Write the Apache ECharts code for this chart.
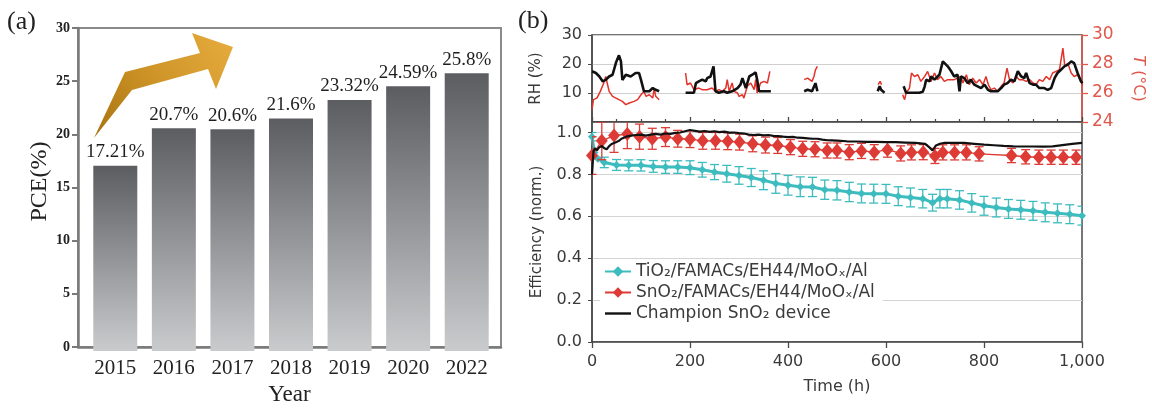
<!DOCTYPE html>
<html>
<head>
<meta charset="utf-8">
<script src="https://cdn.jsdelivr.net/npm/echarts@6/dist/echarts.min.js"></script>
<style>
  html, body { margin: 0; padding: 0; background: #fff; }
  #chart { width: 1152px; height: 411px; }
</style>
</head>
<body>
<div id="chart"></div>
<script>
// ---- (a) record power conversion efficiency by year ----
const years = ['2015', '2016', '2017', '2018', '2019', '2020', '2022'];
const pce = [17.21, 20.7, 20.6, 21.6, 23.32, 24.59, 25.8];

// ---- (b) environment during the stability test (null = no logging) ----
const rhTime = [0, 8, 15, 22, 28, 35, 42, 49, 55, 59, 62, 69, 79, 89, 96, 100, 106, 117, 124, 130, 137,
  160,
  191, 208, 212, 218, 225, 232, 235, 242, 248, 252, 259, 269, 276, 286, 297, 303, 307, 314, 321, 327, 334, 337, 341, 351, 365,
  400,
  433, 440, 443, 449, 453, 456, 460,
  520,
  583, 587, 590, 593, 597,
  615,
  636, 641, 655, 668, 675, 679, 682, 689, 692, 699, 702, 709, 716, 719, 726, 733, 739, 746, 750, 753,
  760, 767, 773, 780, 787, 794, 801, 808, 814, 821, 828, 835, 841, 848, 855, 862, 869, 876, 882, 886,
  893, 900, 906, 913, 916, 923, 930, 937, 944, 950, 957, 964, 971, 978, 984, 991, 998, 1001];
const rhValue = [17.5, 16.9, 15.7, 14.0, 14.5, 15.7, 16.3, 20.5, 23.0, 21.0, 14.5, 16.3, 15.7, 16.9, 16.9, 14.5, 10.6, 10.6, 11.7, 11.1, 10.6,
  null,
  10.1, 10.1, 13.4, 14.0, 14.6, 14.0, 15.1, 15.7, 19.2, 10.6, 10.1, 10.6, 10.1, 10.6, 11.7, 12.9, 15.1, 11.7, 15.7, 16.3, 17.1, 14.6, 10.6, 10.6, 10.6,
  null,
  10.6, 11.1, 11.7, 10.6, 11.1, 13.4, 10.6,
  null,
  10.6, 12.3, 11.1, 10.6, 10.1,
  null,
  12.3, 10.1, 10.1, 10.1, 10.4, 12.3, 14.6, 14.0, 15.7, 14.6, 15.1, 16.3, 20.9, 21.5, 19.2, 17.5, 15.7, 16.3, 10.6, 15.7,
  15.1, 13.4, 14.6, 12.9, 12.3, 11.7, 12.9, 11.1, 10.6, 10.6, 10.6, 11.7, 12.9, 13.4, 14.6, 14.0, 17.5, 15.7, 15.1, 16.9,
  13.4, 12.9, 12.9, 11.7, 11.1, 11.7, 11.1, 11.7, 15.1, 16.9, 18.0, 19.2, 19.8, 20.9, 20.3, 16.9, 14.0, 13.4];

const tempTime = [0, 3, 10, 17, 24, 28, 31, 35, 42, 49, 55, 62, 69, 76, 86, 93, 100, 106, 110, 117, 124, 127, 130, 137,
  160,
  191, 194, 201, 208, 218, 225, 235, 245, 252, 259, 266, 273, 276, 280, 286, 290, 297, 300, 307, 310, 317, 324, 331, 334, 337, 344, 351, 358, 363,
  400,
  433, 440, 443, 449, 453, 456, 460,
  520,
  584, 588, 591,
  615,
  634, 638, 641, 648, 652, 658, 665, 671, 679, 685, 692, 699, 705, 712, 719, 726, 733, 739, 746, 753,
  757, 764, 770, 777, 784, 791, 798, 804, 809, 814, 821, 828, 835, 841, 847, 852, 859, 866, 872, 879,
  886, 893, 900, 906, 913, 920, 927, 934, 940, 947, 954, 961, 965, 971, 978, 984, 991, 998, 1001];
const tempValue = [24.85, 25.54, 25.65, 26.11, 26.69, 27.14, 26.69, 26.11, 25.77, 25.65, 25.54, 25.42, 25.2, 25.31, 25.42, 25.54, 25.88, 26.11, 25.77, 25.88, 25.65, 26.34, 25.77, 25.54,
  null,
  27.38, 26.57, 26.69, 26.23, 26.34, 26.23, 26.23, 26.34, 26.11, 26.23, 26.11, 26.34, 26.92, 26.11, 26.69, 26.11, 26.0, 25.77, 25.88, 25.65, 26.46, 26.69, 26.23, 26.92, 26.0, 26.69, 26.8, 26.69, 27.49,
  null,
  26.92, 27.03, 26.92, 26.8, 27.14, 27.6, 27.83,
  null,
  26.57, 26.8, 26.57,
  null,
  25.88, 25.54, 26.0, 26.34, 27.38, 27.14, 27.26, 26.8, 27.14, 27.49, 26.8, 27.38, 26.92, 27.14, 26.8, 26.92, 26.92, 26.92, 27.03, 27.14,
  26.69, 27.26, 26.57, 27.03, 26.69, 26.92, 26.57, 27.14, 26.57, 26.23, 26.34, 26.11, 26.46, 26.69, 27.72, 26.92, 26.69, 27.14, 26.92, 26.92,
  26.8, 26.92, 26.69, 26.57, 26.92, 26.8, 27.14, 26.92, 27.38, 27.49, 27.6, 29.1, 27.83, 28.06, 27.38, 27.14, 27.26, 26.8, 26.57];

// ---- (b) normalized efficiency ----
const tio2Time = [0, 5, 12, 25, 50, 75, 100, 125, 150, 175, 200, 225, 250, 275, 300, 325, 350, 375, 400, 425, 450, 475, 500,
  525, 550, 575, 600, 625, 650, 675, 695, 710, 725, 750, 775, 800, 825, 850, 875, 900, 925, 950, 975, 1000];
const tio2Eff = [0.98, 0.905, 0.875, 0.857, 0.845, 0.843, 0.843, 0.838, 0.835, 0.835, 0.832, 0.822, 0.811, 0.803, 0.795, 0.785, 0.772, 0.757, 0.748, 0.741, 0.74, 0.727, 0.724,
  0.716, 0.709, 0.708, 0.707, 0.696, 0.69, 0.684, 0.665, 0.684, 0.684, 0.678, 0.664, 0.65, 0.642, 0.635, 0.631, 0.626, 0.619, 0.614, 0.61, 0.603];
const tio2Err = [0.02, 0, 0, 0.025, 0.026, 0.026, 0.027, 0.028, 0.03, 0.03, 0.033, 0.035, 0.036, 0.04, 0.042, 0.043, 0.045, 0.047, 0.047, 0.047, 0.046, 0.046, 0.046,
  0.046, 0.045, 0.045, 0.045, 0.045, 0.045, 0.044, 0.04, 0.044, 0.044, 0.044, 0.044, 0.045, 0.045, 0.045, 0.045, 0.045, 0.045, 0.045, 0.045, 0.045];

const sno2Time = [0, 20, 45, 72, 97, 123, 150, 175, 200, 226, 252, 277, 301, 328, 354, 379, 405, 430, 455, 480,
  500, 525, 550, 576, 603, 630, 652, 676, 700, 716, 740, 764, 790, 856, 885, 912, 937, 962, 988];
const sno2Eff = [0.89, 0.96, 0.985, 0.993, 0.98, 0.97, 0.978, 0.97, 0.968, 0.96, 0.96, 0.958, 0.954, 0.946, 0.94, 0.938, 0.93, 0.922, 0.92, 0.914,
  0.914, 0.906, 0.912, 0.906, 0.918, 0.9, 0.905, 0.906, 0.888, 0.905, 0.905, 0.905, 0.898, 0.89, 0.884, 0.882, 0.882, 0.882, 0.882];
const sno2Err = [0.09, 0.09, 0.08, 0.07, 0.06, 0.05, 0.045, 0.04, 0.04, 0.04, 0.04, 0.04, 0.038, 0.038, 0.038, 0.038, 0.036, 0.036, 0.036, 0.036,
  0.036, 0.036, 0.036, 0.036, 0.036, 0.036, 0.036, 0.036, 0.036, 0.036, 0.036, 0.036, 0.034, 0.034, 0.034, 0.034, 0.034, 0.034, 0.034];

const champTime = [0, 3, 6, 10, 15, 20, 25, 30, 35, 40, 45, 50, 55, 60, 65, 70, 80, 90, 100, 110, 120, 130, 140, 150, 160, 170, 180, 190,
  200, 210, 220, 230, 240, 250, 260, 270, 280, 290, 300, 310, 320, 330, 340, 350, 360, 370, 380, 390, 400, 410, 420, 430, 440, 450,
  460, 470, 480, 490, 500, 520, 540, 560, 580, 600, 620, 640, 660, 680, 688, 695, 702, 710, 720, 740, 760, 780, 800, 820, 840, 860,
  880, 900, 920, 940, 960, 980, 1000];
const champEff = [0.80, 0.91, 0.925, 0.915, 0.93, 0.935, 0.925, 0.92, 0.935, 0.945, 0.95, 0.955, 0.96, 0.97, 0.975, 0.98, 0.985, 0.988, 0.99, 0.985, 0.99, 0.993, 0.99, 0.995, 0.993, 0.998, 1.0, 1.006,
  1.012, 1.008, 1.004, 1.007, 1.003, 1.006, 1.002, 1.004, 0.999, 1.0, 0.997, 0.995, 0.99, 0.988, 0.99, 0.986, 0.988, 0.984, 0.983, 0.98, 0.978, 0.979, 0.975, 0.974, 0.972, 0.97,
  0.97, 0.966, 0.963, 0.962, 0.961, 0.958, 0.957, 0.955, 0.955, 0.954, 0.954, 0.952, 0.95, 0.946, 0.93, 0.914, 0.938, 0.946, 0.95, 0.951, 0.95, 0.946, 0.942, 0.939, 0.936, 0.934,
  0.933, 0.933, 0.932, 0.934, 0.94, 0.946, 0.95];

const seriesNames = ['TiO₂/FAMACs/EH44/MoOₓ/Al', 'SnO₂/FAMACs/EH44/MoOₓ/Al', 'Champion SnO₂ device'];

// ---- helpers ----
const pairs = (xs, ys) => xs.map((x, i) => [x, ys[i] === null ? '-' : ys[i]]);
const bands = (xs, ys, es) => xs.map((x, i) => [x, ys[i] - es[i], ys[i] + es[i]]).filter((d, i) => es[i] > 0);

function errorBars(color) {
  return function (params, api) {
    const lo = api.coord([api.value(0), api.value(1)]);
    const hi = api.coord([api.value(0), api.value(2)]);
    const w = 4.5;
    const style = { stroke: color, lineWidth: 1.3, fill: null };
    return {
      type: 'group',
      children: [
        { type: 'line', shape: { x1: lo[0], y1: lo[1], x2: hi[0], y2: hi[1] }, style },
        { type: 'line', shape: { x1: lo[0] - w, y1: lo[1], x2: lo[0] + w, y2: lo[1] }, style },
        { type: 'line', shape: { x1: hi[0] - w, y1: hi[1], x2: hi[0] + w, y2: hi[1] }, style }
      ]
    };
  };
}

const SERIF = 'Liberation Serif';
const SANS = 'DejaVu Sans';
const INK = '#3a3a3a';
const CYAN = '#3cbcbe';
const RED = '#dd3b36';
const RED_TEXT = '#e0574c';
const AXIS_B = '#4a4a4a';

const chart = echarts.init(document.getElementById('chart'));

chart.setOption({
  animation: false,
  backgroundColor: '#fff',
  textStyle: { fontFamily: SANS },
  grid: [
    { left: 78, top: 28, width: 423, height: 323, show: true, borderColor: '#8a8a8a', borderWidth: 2 },
    { left: 86, top: 28, width: 410, height: 323 },
    { left: 592, top: 35, width: 490, height: 87, show: true, borderColor: AXIS_B, borderWidth: 1.5 },
    { left: 592, top: 122, width: 490, height: 220, show: true, borderColor: AXIS_B, borderWidth: 1.5 }
  ],
  xAxis: [
    {
      gridIndex: 0, type: 'value', min: 0, max: 1,
      axisLine: { show: true, lineStyle: { color: '#7a7a7a', width: 2.5 } },
      axisTick: { show: false }, axisLabel: { show: false }, splitLine: { show: false },
      name: 'Year', nameLocation: 'middle', nameGap: 36,
      nameTextStyle: { fontFamily: SERIF, fontSize: 23, color: '#222' }
    },
    {
      gridIndex: 1, type: 'category', data: years,
      axisLine: { show: false }, axisTick: { show: false },
      axisLabel: { fontFamily: SERIF, fontSize: 21, color: '#222', margin: 7 }
    },
    {
      gridIndex: 2, type: 'value', min: 0, max: 1000, interval: 200,
      axisLine: { show: true, lineStyle: { color: AXIS_B, width: 1.5 } },
      axisTick: { show: true, inside: true, length: 5, lineStyle: { color: AXIS_B, width: 1.3 } },
      minorTick: { show: true, splitNumber: 4, length: 3, lineStyle: { color: AXIS_B, width: 1.2 } },
      axisLabel: { show: false }, splitLine: { show: false }
    },
    {
      gridIndex: 3, type: 'value', min: 0, max: 1000, interval: 200,
      axisLine: { show: true, lineStyle: { color: AXIS_B, width: 1.5 } },
      axisTick: { show: true, length: 6, lineStyle: { color: AXIS_B, width: 1.3 } },
      axisLabel: {
        fontSize: 16, color: INK, margin: 12,
        formatter: v => v.toLocaleString('en-US')
      },
      splitLine: { show: false },
      name: 'Time (h)', nameLocation: 'middle', nameGap: 37,
      nameTextStyle: { fontSize: 16, color: INK }
    }
  ],
  yAxis: [
    {
      gridIndex: 0, type: 'value', min: 0, max: 30, interval: 5,
      axisLine: { show: true, lineStyle: { color: '#7a7a7a', width: 2.5 } },
      axisTick: { show: true, length: 6, lineStyle: { color: '#7a7a7a', width: 2 } },
      axisLabel: { fontFamily: SERIF, fontWeight: 'bold', fontSize: 14, color: '#222', margin: 8 },
      splitLine: { show: false },
      name: 'PCE(%)', nameLocation: 'middle', nameGap: 26,
      nameTextStyle: { fontFamily: SERIF, fontSize: 24, color: '#222', padding: [0, 0, 0, 12] }
    },
    { gridIndex: 1, type: 'value', min: 0, max: 30, show: false },
    {
      gridIndex: 2, type: 'value', min: 0, max: 30, interval: 10,
      axisLine: { show: true, lineStyle: { color: AXIS_B, width: 1.5 } },
      axisTick: { show: true, length: 4, lineStyle: { color: AXIS_B } },
      axisLabel: { fontSize: 16, color: INK, margin: 10, showMinLabel: false },
      splitLine: { show: true, lineStyle: { color: '#cfcfcf', width: 1.2 } },
      name: 'RH (%)', nameLocation: 'middle', nameGap: 48,
      nameTextStyle: { fontSize: 15, color: INK }
    },
    {
      gridIndex: 2, type: 'value', position: 'right', min: 24, max: 30, interval: 2,
      axisLine: { show: true, lineStyle: { color: RED_TEXT, width: 1.5 } },
      axisTick: { show: true, length: 6, lineStyle: { color: RED_TEXT, width: 1.3 } },
      axisLabel: { fontSize: 17, color: RED_TEXT, margin: 10 },
      splitLine: { show: false },
      name: '{i|T} (°C)', nameLocation: 'middle', nameGap: 48, nameRotate: -90,
      nameTextStyle: {
        fontSize: 16, color: RED_TEXT,
        rich: { i: { fontStyle: 'italic', fontSize: 16, color: RED_TEXT } }
      }
    },
    {
      gridIndex: 3, type: 'value', min: 0, max: 1.05, interval: 0.2,
      axisLine: { show: true, lineStyle: { color: AXIS_B, width: 1.5 } },
      axisTick: { show: true, length: 4, lineStyle: { color: AXIS_B } },
      axisLabel: { fontSize: 16, color: INK, margin: 10, showMaxLabel: false, formatter: v => v.toFixed(1) },
      splitLine: { show: true, lineStyle: { color: '#d4d4d4', width: 1.2 } },
      name: 'Efficiency (norm.)', nameLocation: 'middle', nameGap: 47,
      nameTextStyle: { fontSize: 15, color: INK }
    }
  ],
  legend: {
    data: [
      seriesNames[0],
      seriesNames[1],
      { name: seriesNames[2], icon: 'path://M0,0 L26,0 L26,2.4 L0,2.4 Z' }
    ],
    orient: 'vertical', left: 600, top: 260,
    itemWidth: 26, itemHeight: 13, itemGap: 4,
    backgroundColor: '#fff', padding: [3, 8, 4, 4],
    textStyle: { fontSize: 17, color: INK }
  },
  series: [
    {
      type: 'bar', xAxisIndex: 1, yAxisIndex: 1, data: pce, barWidth: 44,
      itemStyle: {
        color: new echarts.graphic.LinearGradient(0, 0, 0, 1, [
          { offset: 0, color: '#5c5d61' },
          { offset: 1, color: '#cacbcd' }
        ])
      },
      label: {
        show: true, position: 'top', distance: 4, formatter: '{c}%',
        fontFamily: SERIF, fontSize: 19, color: '#1e1e1e'
      }
    },
    {
      type: 'line', xAxisIndex: 2, yAxisIndex: 3, data: pairs(tempTime, tempValue),
      symbol: 'none', connectNulls: false, lineStyle: { color: '#e2332b', width: 1.5 }
    },
    {
      type: 'line', xAxisIndex: 2, yAxisIndex: 2, data: pairs(rhTime, rhValue),
      symbol: 'none', connectNulls: false, lineStyle: { color: '#111', width: 2.6 }
    },
    {
      type: 'custom', xAxisIndex: 3, yAxisIndex: 4, clip: true,
      renderItem: errorBars(CYAN), encode: { x: 0, y: [1, 2] },
      data: bands(tio2Time, tio2Eff, tio2Err), z: 2
    },
    {
      name: seriesNames[0], type: 'line', xAxisIndex: 3, yAxisIndex: 4,
      data: pairs(tio2Time, tio2Eff),
      symbol: 'diamond', symbolSize: 8, itemStyle: { color: CYAN },
      lineStyle: { color: CYAN, width: 3 }, z: 3
    },
    {
      type: 'custom', xAxisIndex: 3, yAxisIndex: 4, clip: true,
      renderItem: errorBars(RED), encode: { x: 0, y: [1, 2] },
      data: bands(sno2Time, sno2Eff, sno2Err), z: 4
    },
    {
      name: seriesNames[1], type: 'line', xAxisIndex: 3, yAxisIndex: 4,
      data: pairs(sno2Time, sno2Eff),
      symbol: 'diamond', symbolSize: [12, 14], itemStyle: { color: RED },
      lineStyle: { color: RED, width: 1.4 }, z: 5
    },
    {
      name: seriesNames[2], type: 'line', xAxisIndex: 3, yAxisIndex: 4,
      data: pairs(champTime, champEff),
      symbol: 'none', lineStyle: { color: '#111', width: 2.2 }, itemStyle: { color: '#111' }, z: 6
    }
  ],
  graphic: [
    {
      type: 'polygon', z: 10,
      shape: { points: [[94, 138], [125, 72], [200, 53], [192, 33], [233, 47], [216, 89], [208, 69], [132, 90]] },
      style: {
        fill: new echarts.graphic.LinearGradient(0, 1, 1, 0, [
          { offset: 0, color: '#a8720f' },
          { offset: 0.5, color: '#cf9528' },
          { offset: 1, color: '#e8ac3e' }
        ])
      }
    },
    { type: 'text', left: 7, top: 9, style: { text: '(a)', font: '26px "Liberation Serif"', fill: '#222' } },
    { type: 'text', left: 518, top: 8, style: { text: '(b)', font: '26px "Liberation Serif"', fill: '#222' } }
  ]
});
</script>
</body>
</html>
